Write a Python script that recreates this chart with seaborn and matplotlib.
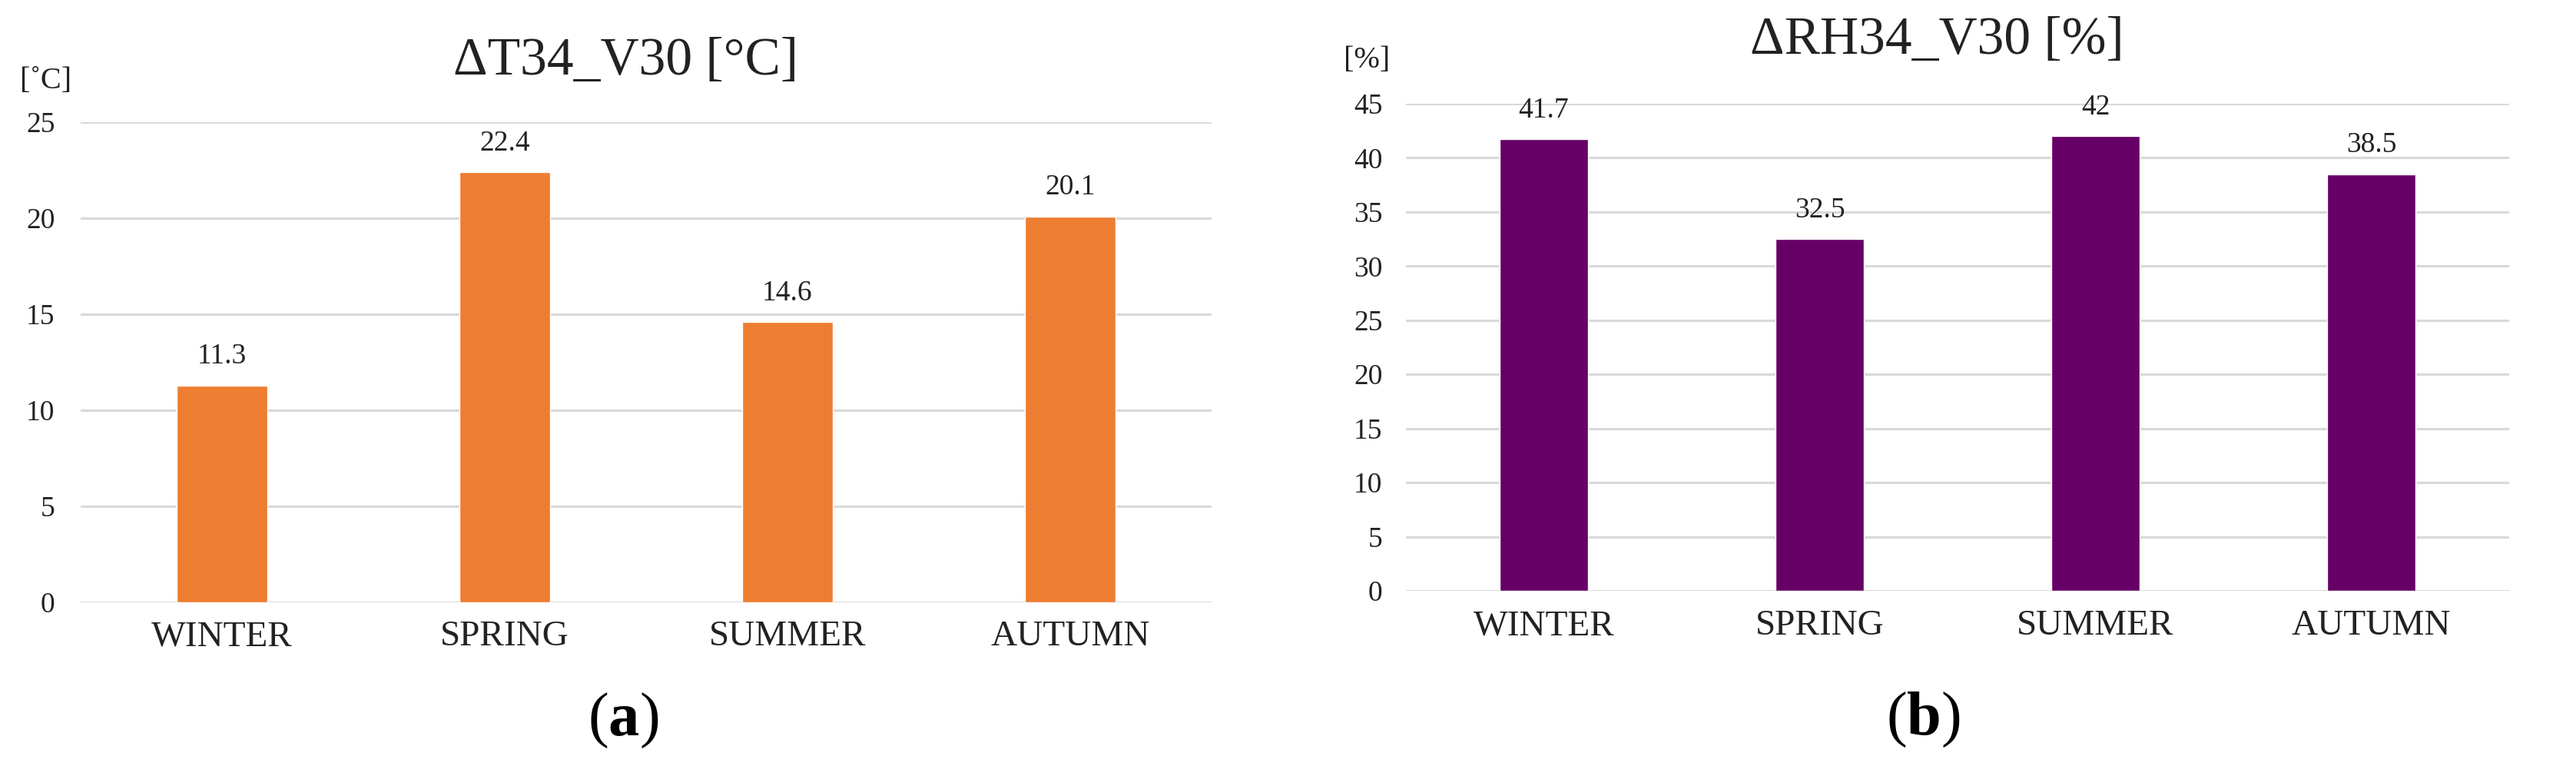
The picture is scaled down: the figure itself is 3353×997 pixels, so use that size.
import matplotlib
matplotlib.use('Agg')
import matplotlib.pyplot as plt
import seaborn as sns

# Data
seasons = ['WINTER', 'SPRING', 'SUMMER', 'AUTUMN']
delta_t = [11.3, 22.4, 14.6, 20.1]
delta_rh = [41.7, 32.5, 42, 38.5]
t_ticks = [0, 5, 10, 15, 20, 25]
rh_ticks = [0, 5, 10, 15, 20, 25, 30, 35, 40, 45]

sns.set_theme(style='white')
plt.rcParams['font.family'] = ['Liberation Serif', 'DejaVu Serif']
plt.rcParams['mathtext.fontset'] = 'custom'
plt.rcParams['mathtext.rm'] = 'Liberation Serif'
plt.rcParams['mathtext.bf'] = 'Liberation Serif:bold'

fig = plt.figure(figsize=(33.53, 9.97), dpi=100)

# Axes placed to match the reference pixel layout
ax1 = fig.add_axes([0.0313, 0.2136, 0.4390, 0.6269])
ax2 = fig.add_axes([0.5458, 0.2287, 0.4283, 0.6359])


def draw_panel(ax, values, ticks, color, ypad, xpad):
  sns.barplot(x=seasons, y=values, color=color, saturation=1, width=0.32, ax=ax)
  ax.set_ylim(ticks[0], ticks[-1])
  ax.set_yticks(ticks)
  ax.set_yticklabels([str(t) for t in ticks])
  ax.set_xlim(-0.5, len(seasons) - 0.5)
  ax.set_axisbelow(True)
  ax.grid(axis='y', color='#d9d9d9', linewidth=2.2)
  ax.grid(axis='x', visible=False)
  for s in ax.spines.values():
    s.set_visible(False)
  ax.tick_params(axis='y', length=0, labelsize=27, pad=ypad, colors='#222222')
  ax.tick_params(axis='x', length=0, labelsize=34, pad=xpad, colors='#222222')
  ax.set_xlabel('')
  ax.set_ylabel('')
  # value labels above the bars
  for i, v in enumerate(values):
    ax.annotate(f'{v:g}', xy=(i, v), xytext=(0, 27), textcoords='offset points',
                ha='center', va='center', fontsize=27, color='#222222')


draw_panel(ax1, delta_t, t_ticks, '#ED7D31', 24, 17)
draw_panel(ax2, delta_rh, rh_ticks, '#660066', 22, 18)

# Titles
fig.text(814 / 3353, 1 - 97 / 997, 'ΔT34_V30 [°C]', ha='center', va='baseline',
         fontsize=50, color='#222222')
fig.text(2521 / 3353, 1 - 70 / 997, 'ΔRH34_V30 [%]', ha='center', va='baseline',
         fontsize=50, color='#222222')

# Unit labels
fig.text(26 / 3353, 1 - 115 / 997, '[˚C]', ha='left', va='baseline',
         fontsize=29, color='#222222')
fig.text(1749 / 3353, 1 - 88 / 997, '[%]', ha='left', va='baseline',
         fontsize=29, color='#222222')

# Panel labels
fig.text(811 / 3353, 1 - 938 / 997, r'($\mathbf{a}$)', ha='center', va='center',
         fontsize=58, color='black')
fig.text(2503 / 3353, 1 - 937 / 997, r'($\mathbf{b}$)', ha='center', va='center',
         fontsize=58, color='black')

fig.savefig('out.png', dpi=100, facecolor='white')
